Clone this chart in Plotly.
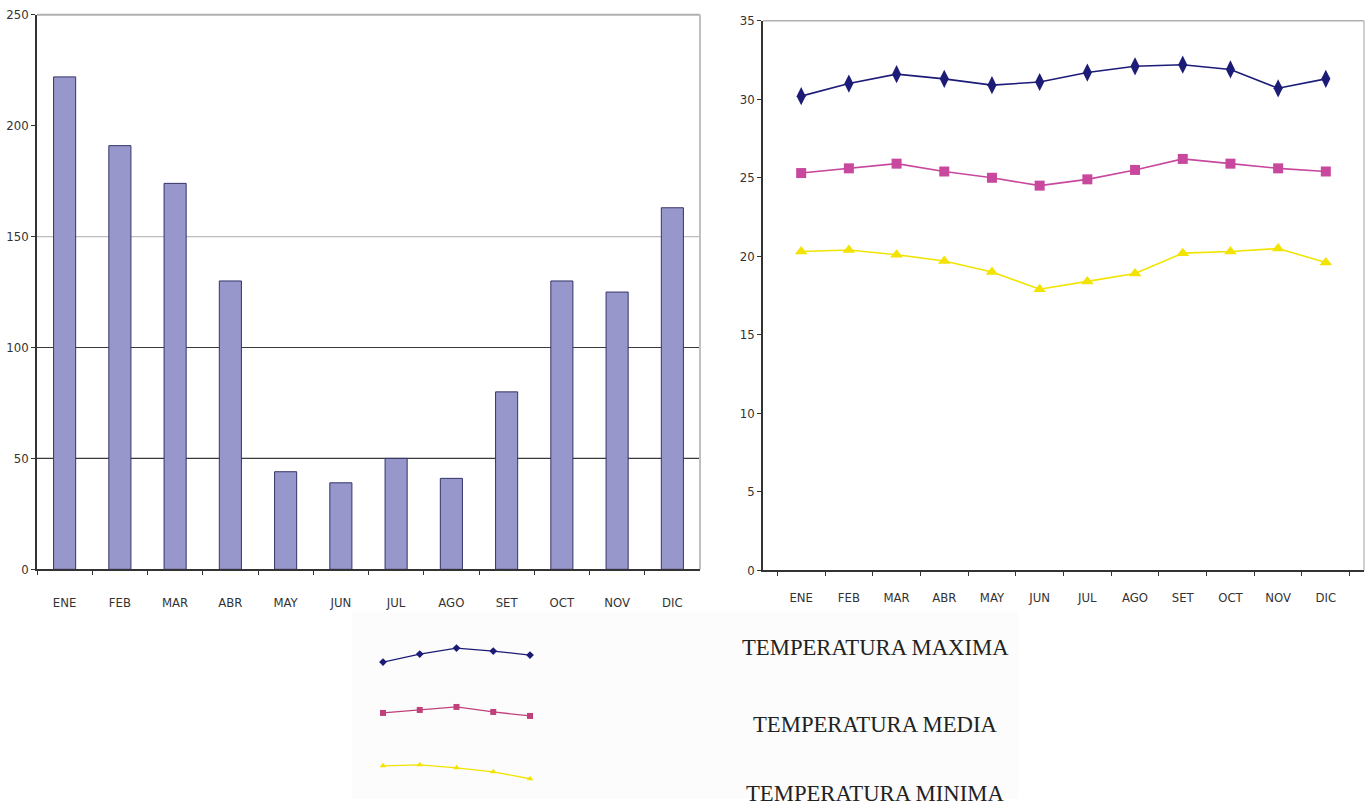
import plotly.graph_objects as go

# Monthly data
months = ["ENE", "FEB", "MAR", "ABR", "MAY", "JUN", "JUL", "AGO", "SET", "OCT", "NOV", "DIC"]
precipitacion = [222, 191, 174, 130, 44, 39, 50, 41, 80, 130, 125, 163]

temp_max = [30.2, 31.0, 31.6, 31.3, 30.9, 31.1, 31.7, 32.1, 32.2, 31.9, 30.7, 31.3]
temp_media = [25.3, 25.6, 25.9, 25.4, 25.0, 24.5, 24.9, 25.5, 26.2, 25.9, 25.6, 25.4]
temp_min = [20.3, 20.4, 20.1, 19.7, 19.0, 17.9, 18.4, 18.9, 20.2, 20.3, 20.5, 19.6]

# Small sample curves used as legend keys
key_x = [0, 1, 2, 3, 4]
key_max = [127, 135, 141, 138, 134]
key_media = [76, 79, 82, 77, 73]
key_min = [23, 24, 21, 17, 10]

legend_labels = ["TEMPERATURA MAXIMA", "TEMPERATURA MEDIA", "TEMPERATURA MINIMA"]

# Horizontal reference lines on the bar panel (value, colour)
bar_grid = [(50, "#3a3a3a"), (100, "#3a3a3a"), (150, "#bdbdbd")]

W, H = 1367, 807

def fy(p):
    # vertical pixel position adjusted for the page's vertical fit
    return (p - 6.2) / 0.984

def px_x(a, b):
    return [a / W, b / W]

def px_y(top, bottom):
    return [(H - fy(bottom)) / H, (H - fy(top)) / H]

def py(p):
    return (H - fy(p)) / H

C_MAX = "#1c1c78"
C_MED = "#c8489e"
C_MIN = "#f2e400"
TICK_FONT = dict(family="DejaVu Sans Condensed, Liberation Sans Narrow, sans-serif",
                 size=13, color="#333333")

fig = go.Figure()

fig.add_trace(go.Bar(
    x=months, y=precipitacion, width=0.4,
    marker=dict(color="#9797cb", line=dict(color="#34346a", width=1)),
    xaxis="x", yaxis="y", showlegend=False, hoverinfo="skip"))

series = [
    (temp_max, C_MAX, "diamond-tall", 13),
    (temp_media, C_MED, "square", 10),
    (temp_min, C_MIN, "triangle-up", 11),
]
for vals, col, sym, size in series:
    fig.add_trace(go.Scatter(
        x=months, y=vals, mode="lines+markers",
        line=dict(color=col, width=1.6),
        marker=dict(symbol=sym, size=size, color=col),
        xaxis="x2", yaxis="y2", showlegend=False, hoverinfo="skip", cliponaxis=False))

keys = [
    (key_max, C_MAX, "diamond", 6),
    (key_media, "#c0407a", "square", 6),
    (key_min, C_MIN, "triangle-up", 6),
]
for vals, col, sym, size in keys:
    fig.add_trace(go.Scatter(
        x=key_x, y=vals, mode="lines+markers",
        line=dict(color=col, width=1.3),
        marker=dict(symbol=sym, size=size, color=col),
        xaxis="x3", yaxis="y3", showlegend=False, hoverinfo="skip", cliponaxis=False))

shapes = []
for val, col in bar_grid:
    shapes.append(dict(type="line", xref="x domain", yref="y", x0=0, x1=1, y0=val, y1=val,
                       line=dict(color=col, width=1.2), layer="below"))
# grey frame on top / right of each panel
shapes += [
    dict(type="line", xref="x domain", yref="y domain", x0=0, x1=1, y0=1, y1=1,
         line=dict(color="#b0b0b0", width=2), layer="below"),
    dict(type="line", xref="x domain", yref="y domain", x0=1, x1=1, y0=0, y1=1,
         line=dict(color="#c0c0c0", width=2), layer="below"),
    dict(type="line", xref="x2 domain", yref="y2 domain", x0=0, x1=1, y0=1, y1=1,
         line=dict(color="#b0b0b0", width=1.5), layer="below"),
    dict(type="line", xref="x2 domain", yref="y2 domain", x0=1, x1=1, y0=0, y1=1,
         line=dict(color="#c0c0c0", width=1.5), layer="below"),
    dict(type="rect", xref="paper", yref="paper", x0=352 / W, x1=1018 / W, y0=0, y1=py(612),
         fillcolor="#fcfcfc", line=dict(width=0), layer="below"),
]

annotations = []
for label, ypx in zip(legend_labels, [648, 726, 795]):
    annotations.append(dict(text=label, xref="paper", yref="paper", x=875 / W, y=py(ypx),
                            xanchor="center", yanchor="middle", showarrow=False,
                            font=dict(family="Liberation Serif, Times New Roman, serif",
                                      size=22.7, color="#222222")))

axis_common = dict(showline=True, linecolor="#333333", linewidth=1.5, ticks="outside",
                   ticklen=4, tickcolor="#333333", tickfont=TICK_FONT, showgrid=False,
                   zeroline=False, fixedrange=True)

fig.update_layout(
    width=W, height=H, margin=dict(l=0, r=0, t=0, b=0),
    paper_bgcolor="white", plot_bgcolor="white",
    shapes=shapes, annotations=annotations,
    xaxis=dict(domain=px_x(37, 700), anchor="y", tickson="boundaries", ticklabelstandoff=20,
               **axis_common),
    yaxis=dict(domain=px_y(14, 570), anchor="x", range=[0, 250], tickvals=[0, 50, 100, 150, 200, 250],
               **axis_common),
    xaxis2=dict(domain=px_x(763, 1364), anchor="y2", tickson="boundaries", ticklabelstandoff=14,
                **axis_common),
    yaxis2=dict(domain=px_y(20, 571), anchor="x2", range=[0, 35], tickvals=[0, 5, 10, 15, 20, 25, 30, 35],
                **axis_common),
    xaxis3=dict(domain=px_x(383, 530), anchor="y3", range=[0, 4], visible=False, fixedrange=True),
    yaxis3=dict(domain=px_y(640, 790), anchor="x3", range=[0, 150], visible=False, fixedrange=True),
)

fig.write_html("out.html")
